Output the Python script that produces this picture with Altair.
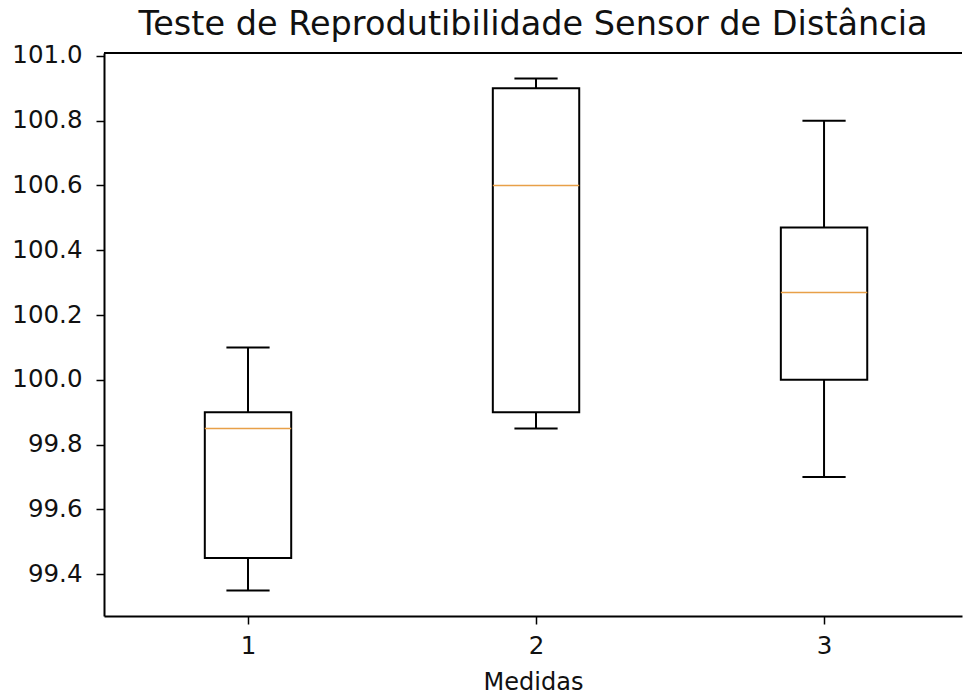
import altair as alt
import pandas as pd

# Box-plot statistics for the three measurement series
medidas = [1, 2, 3]
whisker_low = [99.35, 99.85, 99.70]
q1 = [99.45, 99.90, 100.00]
mediana = [99.85, 100.60, 100.27]
q3 = [99.90, 100.90, 100.47]
whisker_high = [100.10, 100.93, 100.80]

y_ticks = [99.4, 99.6, 99.8, 100.0, 100.2, 100.4, 100.6, 100.8, 101.0]
x_ticks = [1, 2, 3]

W, H = 858, 563
FONT = "DejaVu Sans"

df = pd.DataFrame({
    "medida": medidas,
    "low": whisker_low,
    "q1": q1,
    "med": mediana,
    "q3": q3,
    "high": whisker_high,
})

x_scale = alt.Scale(domain=[0.5, 3.479], nice=False, zero=False)
y_scale = alt.Scale(domain=[99.271, 101.009], nice=False, zero=False)

x_axis = alt.Axis(values=x_ticks, format="d", grid=False, title="Medidas",
                  tickSize=8, labelPadding=10, titlePadding=13)
y_axis = alt.Axis(values=y_ticks, format=".1f", grid=False, title=None,
                  tickSize=8, labelPadding=14)

base = alt.Chart(df).transform_calculate(
    left="datum.medida - 0.15",
    right="datum.medida + 0.15",
    cap_left="datum.medida - 0.075",
    cap_right="datum.medida + 0.075",
)

# whisker stems
stem_hi = base.mark_rule(color="black", strokeWidth=2).encode(
    x=alt.X("medida:Q", scale=x_scale, axis=x_axis),
    y=alt.Y("q3:Q", scale=y_scale, axis=y_axis),
    y2="high:Q",
)
stem_lo = base.mark_rule(color="black", strokeWidth=2).encode(
    x=alt.X("medida:Q", scale=x_scale),
    y=alt.Y("low:Q", scale=y_scale),
    y2="q1:Q",
)

# whisker caps
cap_hi = base.mark_rule(color="black", strokeWidth=2).encode(
    x=alt.X("cap_left:Q", scale=x_scale),
    x2="cap_right:Q",
    y=alt.Y("high:Q", scale=y_scale),
)
cap_lo = base.mark_rule(color="black", strokeWidth=2).encode(
    x=alt.X("cap_left:Q", scale=x_scale),
    x2="cap_right:Q",
    y=alt.Y("low:Q", scale=y_scale),
)

# boxes (interquartile range)
boxes = base.mark_rect(fill="white", stroke="black", strokeWidth=2).encode(
    x=alt.X("left:Q", scale=x_scale),
    x2="right:Q",
    y=alt.Y("q1:Q", scale=y_scale),
    y2="q3:Q",
)

# median lines
medians = base.mark_rule(color="#e8a048", strokeWidth=1.5).encode(
    x=alt.X("left:Q", scale=x_scale),
    x2="right:Q",
    y=alt.Y("med:Q", scale=y_scale),
)

# upper frame line of the plot area
frame_top = alt.Chart(pd.DataFrame({"edge": [0]})).mark_rule(
    color="black", strokeWidth=2
).encode(x=alt.value(0), x2=alt.value(W), y=alt.value(0))

chart = alt.layer(
    stem_hi, stem_lo, cap_hi, cap_lo, boxes, medians, frame_top
).properties(
    width=W,
    height=H,
    background="white",
    autosize=alt.AutoSizeParams(type="none"),
    padding={"left": 104, "top": 53, "right": 1, "bottom": 80},
    title=alt.TitleParams(
        "Teste de Reprodutibilidade Sensor de Distância",
        font=FONT, fontSize=33.5, fontWeight="normal", color="#111",
        anchor="middle", frame="group", baseline="alphabetic", offset=15,
        dy=41,
    ),
).configure_view(
    stroke=None
).configure_axis(
    domainColor="black", domainWidth=2, tickColor="black", tickWidth=1.5,
    labelFont=FONT, labelFontSize=24.5, labelColor="#111",
    titleFont=FONT, titleFontSize=24, titleFontWeight="normal", titleColor="#111",
)

chart.save("out.html", embed_options={"renderer": "svg", "actions": False})
